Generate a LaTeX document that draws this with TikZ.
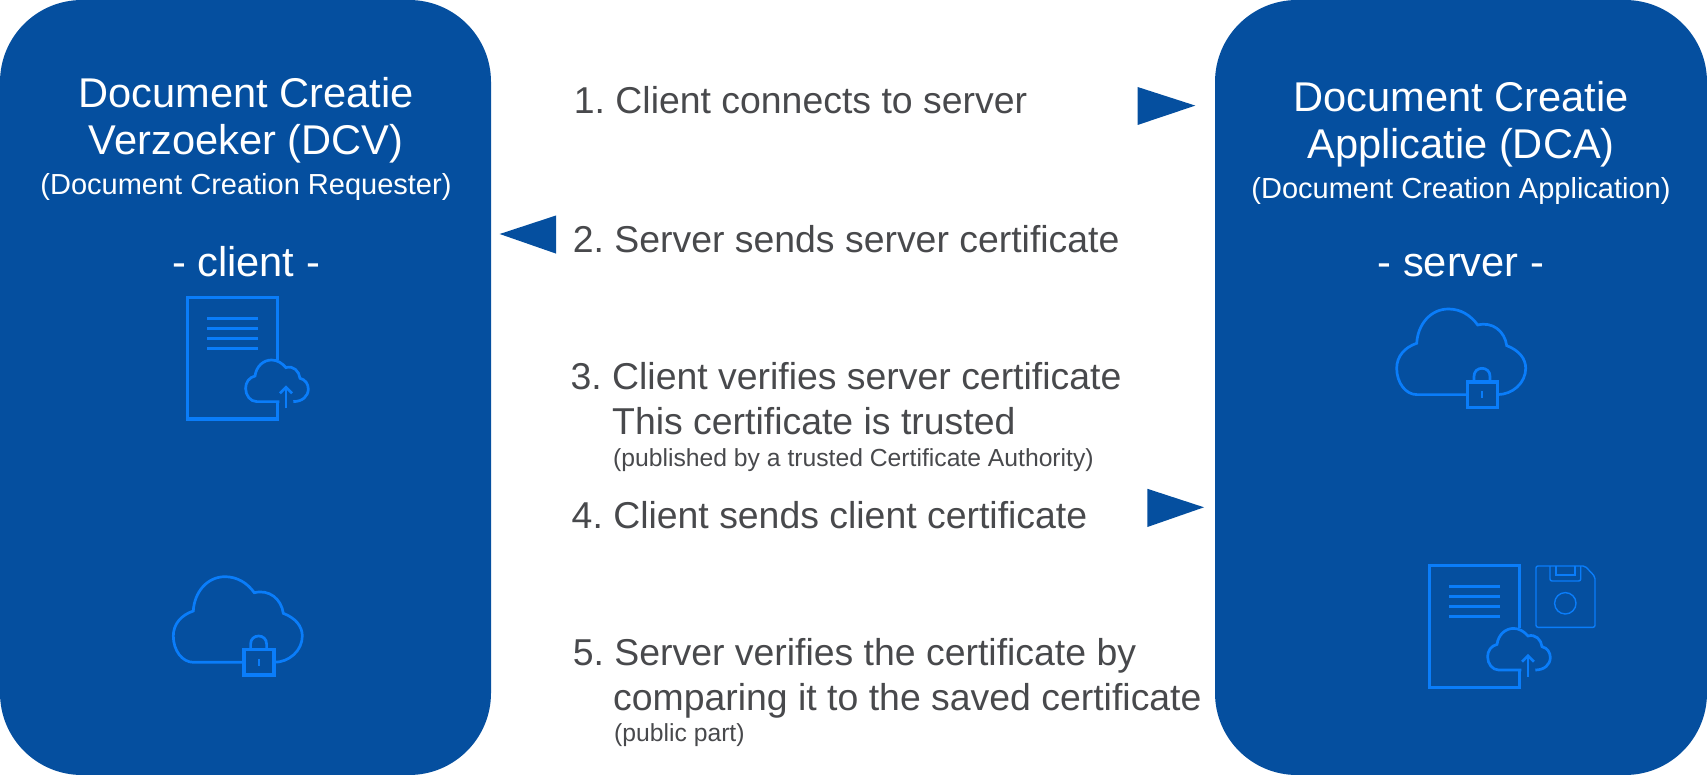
\documentclass[tikz,border=0pt]{standalone}
\usepackage{fontspec}
\setmainfont{Liberation Sans}
\definecolor{boxblue}{HTML}{054F9F}
\definecolor{iconblue}{HTML}{0A7DFA}
\definecolor{stepgray}{HTML}{48494C}
\tikzset{
 sidebox/.style={fill=boxblue,rounded corners=82pt},
 sidetitle/.style={text=white,font=\fontsize{41.6}{42}\selectfont,anchor=base},
 sidesub/.style={text=white,font=\fontsize{29}{29}\selectfont,anchor=base},
 steptext/.style={text=stepgray,font=\frenchspacing\fontsize{37.4}{38}\selectfont,anchor=base west,inner sep=0pt},
 stepnote/.style={text=stepgray,font=\fontsize{24.7}{25}\selectfont,anchor=base west,inner sep=0pt},
 pointer/.style={fill=boxblue},
 iconline/.style={draw=iconblue,line width=2.7pt},
 boldline/.style={draw=iconblue,line width=3.2pt},
 thinline/.style={draw=iconblue,line width=1.4pt},
 pics/cloudlock/.style={code={
  \draw[iconline] (70,26.3) -- (20,26.3) .. controls (9,26.3) and (0,14.5) .. (0,0)
   .. controls (0,-12) and (8,-21) .. (20,-25) .. controls (21,-44) and (34,-59.3) .. (51.7,-59.3)
   .. controls (64,-59.3) and (74,-53) .. (81,-43.3) .. controls (96,-47) and (108,-37) .. (110,-22.7)
   .. controls (122,-18) and (129,-10) .. (129,0) .. controls (129,14.5) and (116,26.3) .. (100.7,26.3);
  \draw[boldline] (70.7,13.7) rectangle (100.7,39);
  \draw[iconline] (77.3,13.7) -- (77.3,8) .. controls (77.3,3) and (81,0) .. (85.3,0)
   .. controls (89.6,0) and (93.3,3) .. (93.3,8) -- (93.3,13.7);
  \draw[iconblue,line width=2pt] (85.3,23) -- (85.3,29.7);
 }},
 pics/docupload/.style={code={
  \draw[boldline] (90,62.7) -- (90,0) -- (0,0) -- (0,121.7) -- (90,121.7) -- (90,104.3);
  \foreach \ly in {21,31,41,51}
   \draw[iconline] (20,\ly) -- (70.3,\ly);
  \draw[iconline] (92,104.3) -- (69.3,104.3) .. controls (63,104.3) and (58.3,98) .. (58.3,91)
   .. controls (58.3,85) and (62,80) .. (67.7,78.7) .. controls (69,69) and (76,62.7) .. (84.3,62.7)
   .. controls (90,62.7) and (95,66) .. (98.7,70.3) .. controls (106,68) and (112,74) .. (112.7,81)
   .. controls (118,82) and (121,87) .. (121,91.7) .. controls (121,99) and (115,104.3) .. (106,104.3);
  \draw[iconline] (98.7,111) -- (98.7,90);
  \draw[iconline] (92.7,96) -- (98.7,90) -- (104.7,96);
 }}
}
\begin{document}
\begin{tikzpicture}[x=1pt,y=-1pt]
 \useasboundingbox (0,0) rectangle (1707,775);
 \fill[sidebox] (0,0) rectangle (491,775);
 \fill[sidebox] (1215,0) rectangle (1707,775);
%
 \node[sidetitle] (dcvone) at (246,108) {Document Creatie};
 \node[sidetitle] (dcvtwo) at (246,155) {Verzoeker (DCV)};
 \node[sidesub] (dcvsub) at (246,194.5) {(Document Creation Requester)};
 \node[sidetitle] (clientlabel) at (246,277) {- client -};
 \pic at (187.3,297.3) {docupload};
 \pic at (173.3,636) {cloudlock};
%
 \node[sidetitle] (dcaone) at (1461,112) {Document Creatie};
 \node[sidetitle] (dcatwo) at (1461,159) {Applicatie (DCA)};
 \node[sidesub] (dcasub) at (1461,198.5) {(Document Creation Application)};
 \node[sidetitle] (serverlabel) at (1461,277) {- server -};
 \pic at (1396.7,368.3) {cloudlock};
 \pic at (1429.3,565.7) {docupload};
 \draw[thinline,rounded corners=2pt] (1536,566) -- (1585,566) -- (1595,576.7) -- (1595,627.3) -- (1536,627.3) -- cycle;
 \draw[thinline,rounded corners=2pt] (1550,566) -- (1550,581) -- (1580.7,581) -- (1580.7,566);
 \draw[thinline] (1556,566) -- (1556,575) -- (1575,575) -- (1575,566);
 \draw[thinline] (1565.3,603.3) circle (10.7);
%
 \fill[pointer] (1137.6,87) -- (1195.3,105.6) -- (1137.6,125) -- cycle;
 \fill[pointer] (556,215.5) -- (499.7,234) -- (556,253.6) -- cycle;
 \fill[pointer] (1147.4,488.8) -- (1204,507.3) -- (1147.4,527) -- cycle;
%
 \node[steptext] (stepone) at (573.7,114) {1. Client connects to server};
 \node[steptext] (steptwo) at (572.6,252.5) {2. Server sends server certificate};
 \node[steptext] (stepthree) at (570.4,389.6) {3. Client verifies server certificate};
 \node[steptext] (trusted) at (612,434) {This certificate is trusted};
 \node[stepnote] (published) at (613,466.5) {(published by a trusted Certificate Authority)};
 \node[steptext] (stepfour) at (571.5,528) {4. Client sends client certificate};
 \node[steptext] (stepfive) at (572.6,665) {5. Server verifies the certificate by};
 \node[steptext] (comparing) at (613,710) {comparing it to the saved certificate};
 \node[stepnote] (publicpart) at (614,741.5) {(public part)};
\end{tikzpicture}
\end{document}
